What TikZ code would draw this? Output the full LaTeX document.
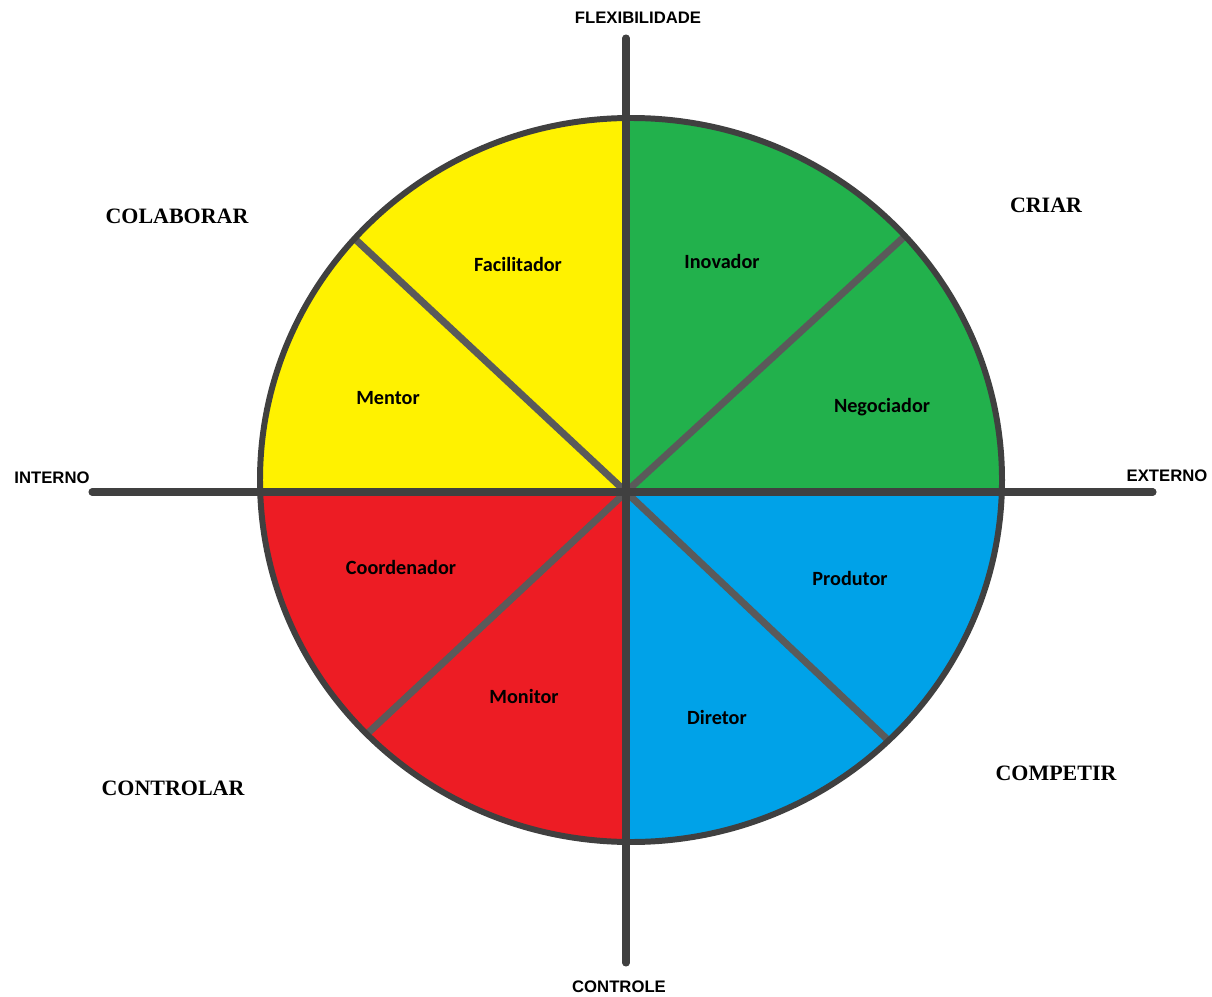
\documentclass[tikz,border=0pt]{standalone}
\usepackage{fontspec}
\setmainfont{Liberation Serif}
\newfontfamily\rolefont{Carlito}
\newfontfamily\axisfont{Liberation Sans}
\definecolor{paintyellow}{HTML}{FFF200}
\definecolor{paintgreen}{HTML}{22B14C}
\definecolor{paintred}{HTML}{ED1C24}
\definecolor{paintblue}{HTML}{00A2E8}
\definecolor{edgegray}{HTML}{404040}
\definecolor{spokegray}{HTML}{5A5A5A}
\tikzset{
    role/.style={font=\rolefont\bfseries\fontsize{11.5}{13}\selectfont, inner sep=0pt},
    axislabel/.style={font=\axisfont\bfseries\fontsize{9.5}{11}\selectfont, inner sep=0pt},
    quadlabel/.style={font=\bfseries\fontsize{12.5}{14}\selectfont, inner sep=0pt},
    axisline/.style={line width=4pt, draw=edgegray, line cap=round},
    spoke/.style={line width=4pt, draw=spokegray},
    rim/.style={line width=3.4pt, draw=edgegray}
}

\begin{document}
\begin{tikzpicture}[x=0.02cm, y=-0.02cm]
  \useasboundingbox (0,0) rectangle (1212,996);
  \coordinate (o) at (626,492);
  \coordinate (c) at (631,480);
  \coordinate (ul) at (355,239);
  \coordinate (ur) at (905,236);
  \coordinate (ll) at (368,733);
  \coordinate (lr) at (888,740);
  \coordinate (top) at (626,38);
  \coordinate (bot) at (626,963);
  \coordinate (lft) at (92,492);
  \coordinate (rgt) at (1153,492);

  % quadrant colours
  \begin{scope}
    \clip (c) ellipse [x radius=371, y radius=362];
    \fill[paintyellow] (o) rectangle (200,80);
    \fill[paintgreen] (o) rectangle (1060,80);
    \fill[paintred] (o) rectangle (200,900);
    \fill[paintblue] (o) rectangle (1060,900);
  \end{scope}

  \draw[spoke] (o) -- (ul); \draw[spoke] (o) -- (ur);
  \draw[spoke] (o) -- (ll); \draw[spoke] (o) -- (lr);
  \draw[rim] (c) ellipse [x radius=371, y radius=362];
  \draw[axisline] (top) -- (bot);
  \draw[axisline] (lft) -- (rgt);

  \node[axislabel] (flex) at (638,18) {FLEXIBILIDADE};
  \node[axislabel] (ctrl) at (619,987) {CONTROLE};
  \node[axislabel] (int) at (52,478) {INTERNO};
  \node[axislabel] (ext) at (1167,476) {EXTERNO};

  \node[quadlabel] (colab) at (177,216) {COLABORAR};
  \node[quadlabel] (criar) at (1046,205) {CRIAR};
  \node[quadlabel] (contr) at (173,788) {CONTROLAR};
  \node[quadlabel] (comp) at (1056,773) {COMPETIR};

  \node[role] (facil) at (518,264) {Facilitador};
  \node[role] (inov) at (722,261) {Inovador};
  \node[role] (ment) at (388,398) {Mentor};
  \node[role] (neg) at (882,407) {Negociador};
  \node[role] (coord) at (401,567) {Coordenador};
  \node[role] (prod) at (850,578) {Produtor};
  \node[role] (mon) at (524,696) {Monitor};
  \node[role] (dir) at (717,717) {Diretor};
\end{tikzpicture}
\end{document}
